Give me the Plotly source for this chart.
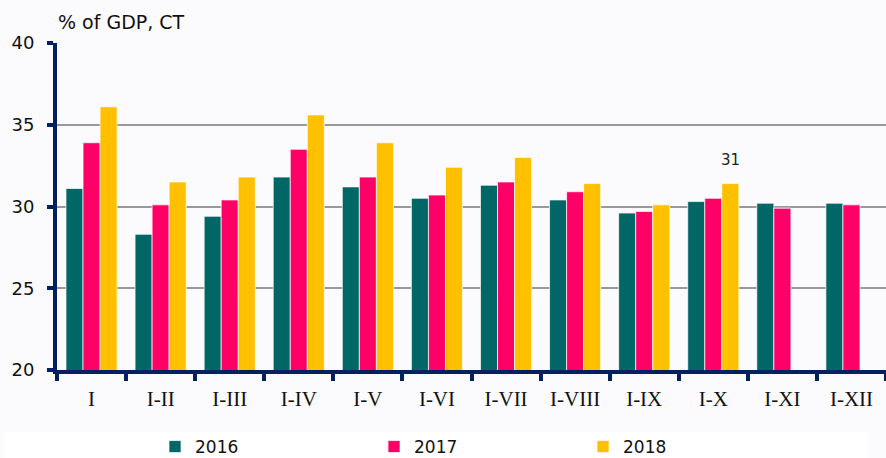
import plotly.graph_objects as go

categories = ["I", "I-II", "I-III", "I-IV", "I-V", "I-VI", "I-VII", "I-VIII", "I-IX", "I-X", "I-XI", "I-XII"]
v2016 = [31.1, 28.3, 29.4, 31.8, 31.2, 30.5, 31.3, 30.4, 29.6, 30.3, 30.2, 30.2]
v2017 = [33.9, 30.1, 30.4, 33.5, 31.8, 30.7, 31.5, 30.9, 29.7, 30.5, 29.9, 30.1]
v2018 = [36.1, 31.5, 31.8, 35.6, 33.9, 32.4, 33.0, 31.4, 30.1, 31.4, None, None]
series_names = ["2016", "2017", "2018"]
colors = ["#006666", "#FF0066", "#FFC000"]
label_index = 9  # category whose 2018 value is annotated

NAVY = "#002060"
W, H = 886, 458
L, T, B = 57, 43, 88
PW, PH = W - L, H - T - B
fig = go.Figure()
legend_ids = ["legend", "legend2", "legend3"]
legend_left_px = [155, 374, 583]
for name, vals, col, lid in zip(series_names, [v2016, v2017, v2018], colors, legend_ids):
    fig.add_trace(go.Bar(
        x=categories, y=vals, name=name, legend=lid,
        marker=dict(color=col, line=dict(color="rgba(255,255,255,0.7)", width=1)),
    ))

fig.add_annotation(
    x=categories[label_index], y=v2018[label_index],
    text=str(round(v2018[label_index])), showarrow=False,
    xshift=17, yshift=24, font=dict(family="DejaVu Sans", size=15, color="#222"),
)

# white legend box
fig.add_shape(type="rect", xref="paper", yref="paper",
              x0=(4 - L) / PW, x1=(868 - L) / PW,
              y0=-(470 - (H - B)) / PH, y1=-(432 - (H - B)) / PH,
              fillcolor="white", line=dict(width=0), layer="below")

legend_common = dict(orientation="h", yref="container", y=1 - 447 / H, yanchor="middle",
                     xref="container", xanchor="left",
                     font=dict(family="DejaVu Sans", size=17, color="#111"),
                     bgcolor="rgba(0,0,0,0)", borderwidth=0)

fig.update_layout(
    width=W, height=H,
    margin=dict(l=L, r=0, t=T, b=B, autoexpand=False),
    paper_bgcolor="#FBFBFE", plot_bgcolor="rgba(0,0,0,0)",
    barmode="group", bargap=0.26, bargroupgap=0,
    font=dict(family="DejaVu Sans", color="#111"),
    showlegend=True,
    legend=dict(x=legend_left_px[0] / W, **legend_common),
    legend2=dict(x=legend_left_px[1] / W, **legend_common),
    legend3=dict(x=legend_left_px[2] / W, **legend_common),
    xaxis=dict(
        type="category", range=[-0.5, 11.5],
        showline=True, linecolor=NAVY, linewidth=4,
        ticks="outside", tickson="boundaries", ticklen=7, tickwidth=4, tickcolor=NAVY,
        tickfont=dict(family="Liberation Serif", size=21, color="#111"),
        tickangle=0, ticklabelstandoff=7,
        showgrid=False,
    ),
    yaxis=dict(
        range=[20, 40], tickvals=[20, 25, 30, 35, 40],
        showline=True, linecolor=NAVY, linewidth=4,
        ticks="outside", ticklen=6, tickwidth=4, tickcolor=NAVY,
        tickfont=dict(family="DejaVu Sans", size=18, color="#111"),
        ticklabelstandoff=9,
        showgrid=True, gridcolor="#999999", gridwidth=2,
        zeroline=False,
    ),
)
fig.add_annotation(xref="paper", yref="paper", x=(56 - L) / PW, y=1 + 8 / PH,
                   xanchor="left", yanchor="bottom",
                   text="% of GDP, CT", showarrow=False,
                   font=dict(family="DejaVu Sans", size=19, color="#111"))

fig.write_html("out.html", config={"displayModeBar": False},
               post_script="document.body.style.margin='0';document.body.style.overflow='hidden';")
